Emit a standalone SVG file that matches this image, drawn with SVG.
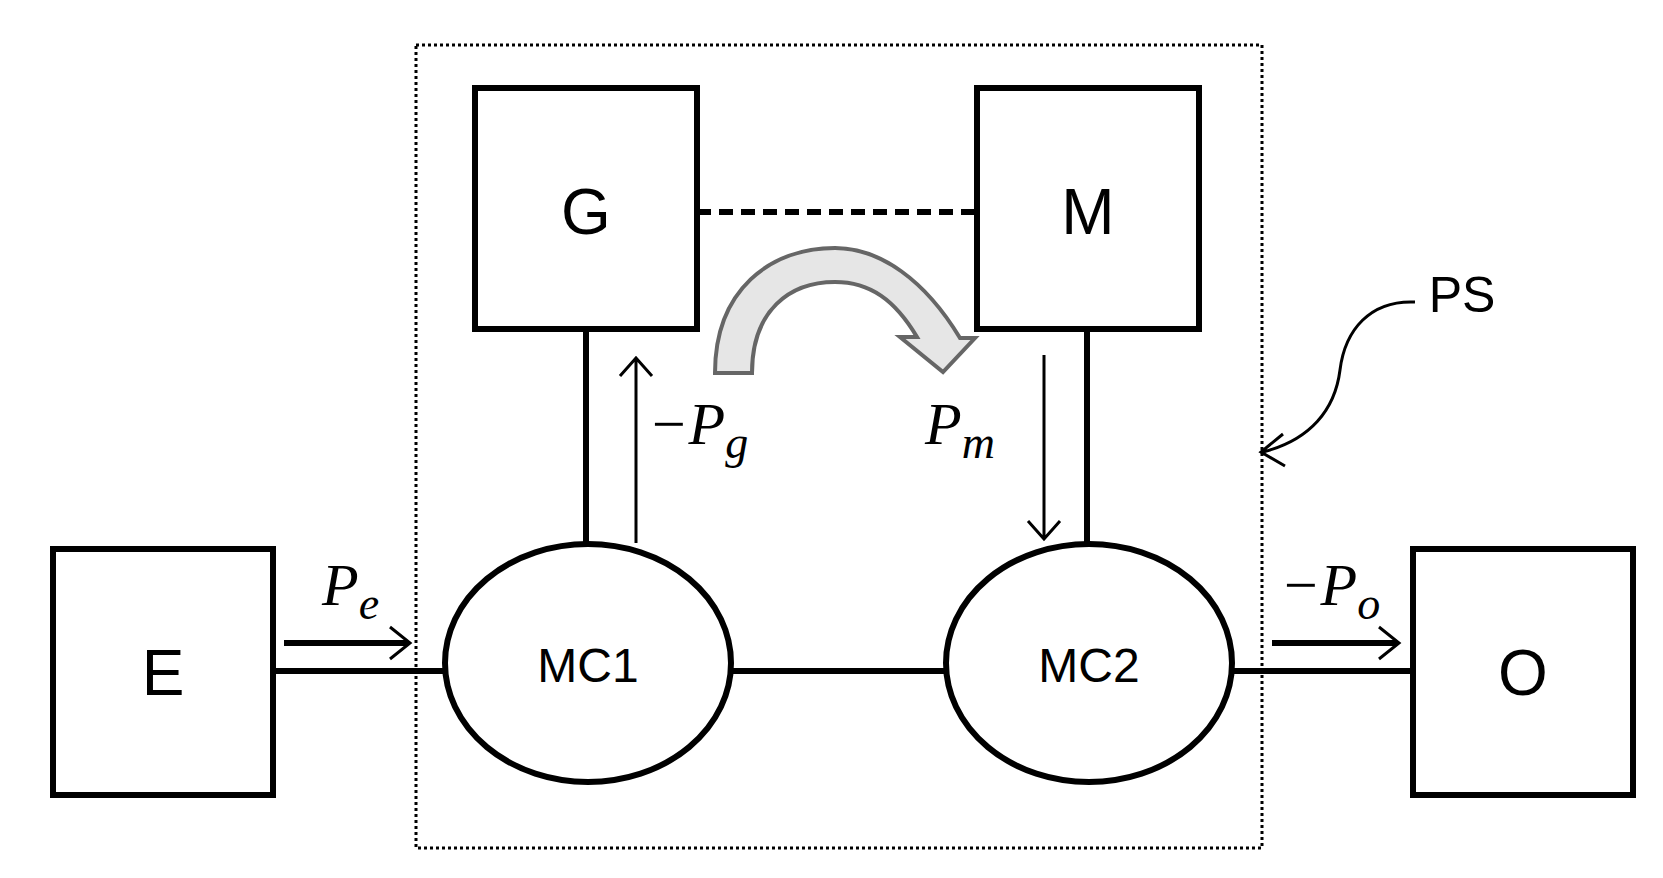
<svg xmlns="http://www.w3.org/2000/svg" width="1663" height="878" viewBox="0 0 1663 878">
<style>
.box{fill:#fff;stroke:#000;stroke-width:6}
.ln{stroke:#000;stroke-width:6;fill:none}
.thin{stroke:#000;stroke-width:3;fill:none}
.lbl{font-family:"Liberation Sans",Arial,sans-serif;fill:#000;text-anchor:middle}
.m{font-family:"Liberation Serif","Times New Roman",serif;font-style:italic;fill:#000}
</style>
<rect width="1663" height="878" fill="#fff"/>
<rect x="416" y="45" width="846" height="803" fill="none" stroke="#000" stroke-width="3" stroke-dasharray="3,3"/>
<g id="connectors">
<line class="ln" x1="273" y1="671" x2="445" y2="671"/>
<line class="ln" x1="731" y1="671" x2="946" y2="671"/>
<line class="ln" x1="1232" y1="671" x2="1413" y2="671"/>
<line class="ln" x1="586" y1="329" x2="586" y2="544"/>
<line class="ln" x1="1087" y1="329" x2="1087" y2="544"/>
<line class="ln" x1="697" y1="212" x2="977" y2="212" stroke-dasharray="14,8"/>
<path class="thin" d="M636,543 V360 M620,376 L636,358 L652,376"/>
<path class="thin" d="M1044,355 V539 M1028,521 L1044,539 L1060,521"/>
<path class="ln" d="M284,643 H408" stroke-width="5"/>
<path class="thin" d="M390,627 L410,643 L390,659"/>
<path class="ln" d="M1272,643 H1397" stroke-width="5"/>
<path class="thin" d="M1379,627 L1399,643 L1379,659"/>
<path d="M715,373 C715,290 770,248 835,248 C880,248 925,280 960,338 L975,338 L943,372 L900,337 L917,337 C895,300 870,282 835,282 C790,282 752,310 752,373 Z" fill="#e6e6e6" stroke="#666" stroke-width="4"/>
<path class="thin" d="M1415,302 C1370,300 1345,330 1340,370 C1335,410 1310,440 1263,452 M1283,434 L1261,452 L1285,466"/>
</g>
<g id="G"><rect class="box" x="475" y="88" width="222" height="241"/><text class="lbl" x="586" y="234" font-size="64">G</text></g>
<g id="M"><rect class="box" x="977" y="88" width="222" height="241"/><text class="lbl" x="1088" y="234" font-size="64">M</text></g>
<g id="E"><rect class="box" x="53" y="549" width="220" height="246"/><text class="lbl" x="163" y="695" font-size="64">E</text></g>
<g id="O"><rect class="box" x="1413" y="549" width="220" height="246"/><text class="lbl" x="1523" y="695" font-size="64">O</text></g>
<g id="MC1"><ellipse class="box" cx="588" cy="663" rx="143" ry="119"/><text class="lbl" x="588" y="682" font-size="48">MC1</text></g>
<g id="MC2"><ellipse class="box" cx="1089" cy="663" rx="143" ry="119"/><text class="lbl" x="1089" y="682" font-size="48">MC2</text></g>
<g id="labels">
<text class="m" x="322" y="605" font-size="60">P<tspan font-size="46" dy="14">e</tspan></text>
<text class="m" x="648" y="444" font-size="60">−P<tspan font-size="46" dy="14">g</tspan></text>
<text class="m" x="925" y="444" font-size="60">P<tspan font-size="46" dy="14">m</tspan></text>
<text class="m" x="1280" y="605" font-size="60">−P<tspan font-size="46" dy="14">o</tspan></text>
<text class="lbl" x="1462" y="312" font-size="50">PS</text>
</g>
</svg>
